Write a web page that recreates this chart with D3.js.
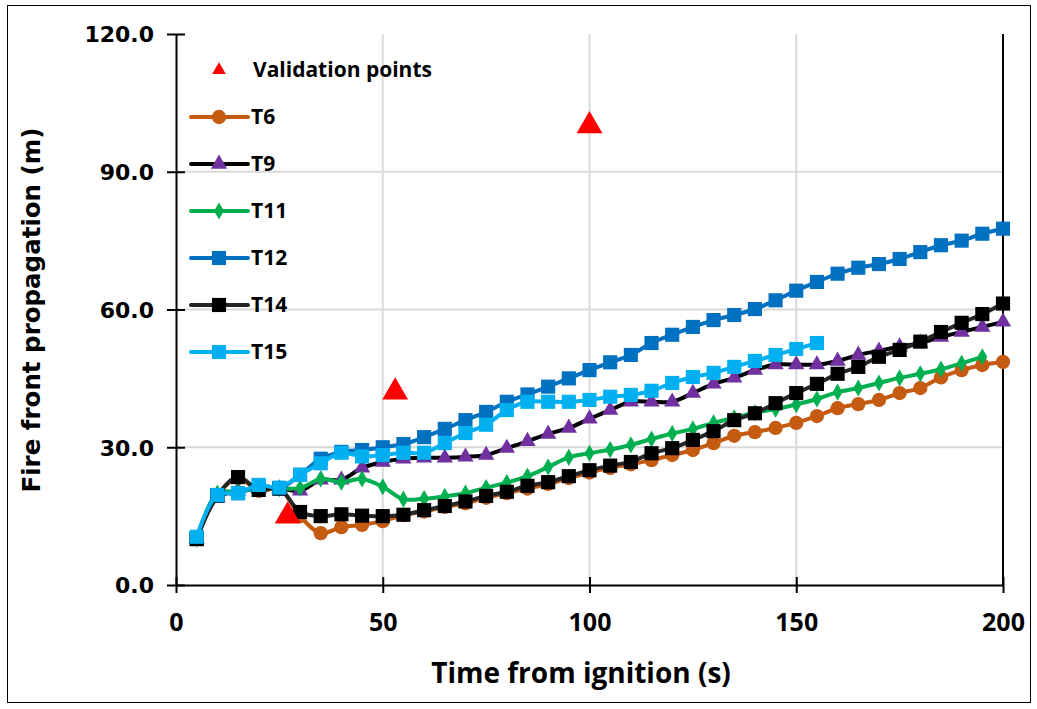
<!DOCTYPE html>
<meta charset="utf-8">
<style>
  body { margin: 0; background: #fff; }
  .ytick { font-family: "DejaVu Sans", Verdana, sans-serif; font-weight: bold; font-size: 22px; fill: #000; }
  .xtick { font-family: "Open Sans", sans-serif; font-weight: bold; font-size: 25px; fill: #000; }
  .ytitle { font-family: "DejaVu Sans", Verdana, sans-serif; font-weight: bold; font-size: 24.5px; fill: #000; }
  .xtitle { font-family: "Open Sans", sans-serif; font-weight: bold; font-size: 28px; fill: #000; }
  .legend { font-family: "Open Sans", sans-serif; font-weight: bold; font-size: 21px; fill: #000; }
</style>
<script src="https://d3js.org/d3.v7.min.js"></script>
<div id="my_dataviz"></div>
<script>

// time axis (s), every 5 s
var time = [5,10,15,20,25,30,35,40,45,50,55,60,65,70,75,80,85,90,95,100,
            105,110,115,120,125,130,135,140,145,150,155,160,165,170,175,180,185,190,195,200];

// fire front propagation (m) for each test
var t6  = [10.2,19.5,23.3,20.5,21,15,11.3,12.6,13.1,13.9,15.2,16,17,17.8,19,20,21,22,23.3,24.5,
           25.5,26.3,27.2,28.3,29.4,30.9,32.5,33.3,34.2,35.3,36.8,38.5,39.4,40.3,41.8,42.9,45.2,46.8,47.9,48.6];
var t9  = [10,19,20.5,21,21,20.5,22.9,22.9,25.5,26.8,27.5,27.7,27.7,27.9,28.3,29.8,31.3,32.9,34.2,36.2,
           38.1,39.9,39.9,39.9,41.8,43.8,45.1,46.8,48,48,48,48.8,50.1,51,51.9,52.7,54,55.1,56.2,57.3];
var t11 = [10,20,20.3,21,21,21.1,23.1,22.4,23.1,21.4,18.7,18.8,19.3,20,21.2,22.3,23.7,25.7,27.8,28.7,
           29.5,30.5,31.8,33,34,35.3,36.4,37.5,38.3,39.3,40.5,42,42.9,44,45.1,46,47,48.3,49.7];
var t12 = [10,19.5,20,21.5,21,24,27.5,29,29.4,30,30.7,32.2,34,35.9,37.7,39.9,41.5,43.2,45,46.8,
           48.5,50.1,52.7,54.5,56.2,57.7,58.8,60.1,62,64.1,66,67.8,69.1,69.9,71,72.5,74,75,76.5,77.6];
var t14 = [10,19.5,23.5,20.7,21,15.9,15,15.4,15.1,15,15.3,16.3,17.2,18.2,19.4,20.3,21.6,22.4,23.7,25,
           26,26.8,28.7,29.8,31.6,33.5,35.9,37.4,39.6,41.8,43.8,46,47.5,49.7,51.2,53,55.1,57.1,59,61.3];
var t15 = [10.5,19.6,20,21.8,21.2,24,26.5,28.8,28,28.3,28.8,28.8,30.9,33.1,34.9,38.1,39.9,39.9,39.9,40.3,
           41,41.4,42.3,44,45.3,46.2,47.5,48.8,50.1,51.4,52.7];

// validation points
var valTime  = [27, 53, 100];
var valValue = [15, 42, 100];

var xTicks = [0, 50, 100, 150, 200];
var yTicks = [0, 30, 60, 90, 120];

var series = [
  {name: "T6",  values: t6,  line: "#C55A11", fill: "#C55A11", marker: "circle"},
  {name: "T9",  values: t9,  line: "#000000", fill: "#7030A0", marker: "triangle"},
  {name: "T11", values: t11, line: "#00B050", fill: "#00B050", marker: "diamond"},
  {name: "T12", values: t12, line: "#0070C0", fill: "#0070C0", marker: "square"},
  {name: "T14", values: t14, line: "#262626", fill: "#000000", marker: "square"},
  {name: "T15", values: t15, line: "#00B0F0", fill: "#00B0F0", marker: "square"}
];

var W = 1037, H = 709;
var margin = {top: 34, right: 34, bottom: 124, left: 176};
var width = W - margin.left - margin.right,
    height = H - margin.top - margin.bottom;

var svg = d3.select("#my_dataviz")
  .append("svg")
    .attr("width", W)
    .attr("height", H);

svg.append("rect")
  .attr("x", 7.5).attr("y", 5.5)
  .attr("width", 1023).attr("height", 697)
  .attr("fill", "#fff")
  .attr("stroke", "#000")
  .attr("stroke-width", 1);

var g = svg.append("g")
  .attr("transform", "translate(" + margin.left + "," + margin.top + ")");

var x = d3.scaleLinear().domain([0, 200]).range([0, width]);
var y = d3.scaleLinear().domain([0, 120]).range([height, 0]);

// gridlines
g.selectAll(".hgrid")
  .data(yTicks.filter(function(d) { return d > 0 && d < 120; }))
  .enter().append("line")
    .attr("x1", 0).attr("x2", width)
    .attr("y1", function(d) { return y(d); })
    .attr("y2", function(d) { return y(d); })
    .attr("stroke", "#d9d9d9").attr("stroke-width", 2);

g.selectAll(".vgrid")
  .data(xTicks.filter(function(d) { return d > 0 && d < 200; }))
  .enter().append("line")
    .attr("y1", 0).attr("y2", height)
    .attr("x1", function(d) { return x(d); })
    .attr("x2", function(d) { return x(d); })
    .attr("stroke", "#d9d9d9").attr("stroke-width", 2);

// right border line at 200
g.append("line")
  .attr("x1", x(200)).attr("x2", x(200))
  .attr("y1", 0).attr("y2", height)
  .attr("stroke", "#000").attr("stroke-width", 2);

// Y axis
var yAxis = g.append("g")
  .call(d3.axisLeft(y).tickValues(yTicks).tickSize(0).tickPadding(22)
        .tickFormat(d3.format(".1f")));
yAxis.select(".domain").attr("stroke", "#000").attr("stroke-width", 2);
yAxis.selectAll("text").attr("class", "ytick").attr("dy", "0.36em");
yAxis.selectAll(".tick").append("line")
  .attr("x1", -9).attr("x2", 9).attr("stroke", "#000").attr("stroke-width", 2);

// X axis
var xAxis = g.append("g")
  .attr("transform", "translate(0," + height + ")")
  .call(d3.axisBottom(x).tickValues(xTicks).tickSize(0).tickPadding(28));
xAxis.select(".domain").attr("stroke", "#000").attr("stroke-width", 2);
xAxis.selectAll("text").attr("class", "xtick");
xAxis.selectAll(".tick").append("line")
  .attr("y1", -8).attr("y2", 8).attr("stroke", "#000").attr("stroke-width", 2);

// axis titles
svg.append("text")
  .attr("class", "ytitle")
  .attr("transform", "translate(40,310) rotate(-90)")
  .attr("text-anchor", "middle")
  .text("Fire front propagation (m)");

svg.append("text")
  .attr("class", "xtitle")
  .attr("x", 581).attr("y", 683)
  .attr("text-anchor", "middle")
  .text("Time from ignition (s)");

function symbolFor(m) {
  if (m === "circle") return d3.symbol().type(d3.symbolCircle).size(160);
  if (m === "triangle") return d3.symbol().type(d3.symbolTriangle).size(115);
  if (m === "diamond") return d3.symbol().type(d3.symbolDiamond).size(85);
  return d3.symbol().type(d3.symbolSquare).size(200);
}

var line = d3.line()
  .x(function(d) { return x(d[0]); })
  .y(function(d) { return y(d[1]); })
  .curve(d3.curveCatmullRom.alpha(0.5));

series.forEach(function(s) {
  var pts = s.values.map(function(v, i) { return [time[i], v]; });
  g.append("path")
    .datum(pts)
    .attr("fill", "none")
    .attr("stroke", s.line)
    .attr("stroke-width", 4)
    .attr("d", line);
  g.selectAll(null)
    .data(pts)
    .enter().append("path")
      .attr("d", symbolFor(s.marker)())
      .attr("transform", function(d) { return "translate(" + x(d[0]) + "," + y(d[1]) + ")"; })
      .attr("fill", s.fill);
});

// validation points
g.selectAll(".val")
  .data(valTime.map(function(t, i) { return [t, valValue[i]]; }))
  .enter().append("path")
    .attr("d", d3.symbol().type(d3.symbolTriangle).size(290)())
    .attr("transform", function(d) { return "translate(" + x(d[0]) + "," + y(d[1]) + ")"; })
    .attr("fill", "#FF0000");

// legend
var leg = svg.append("g").attr("transform", "translate(191,70)");
leg.append("path")
  .attr("d", d3.symbol().type(d3.symbolTriangle).size(80)())
  .attr("transform", "translate(28,0)")
  .attr("fill", "#FF0000");
leg.append("text").attr("class", "legend")
  .attr("x", 62).attr("dy", "0.35em").text("Validation points");

series.forEach(function(s, i) {
  var row = leg.append("g").attr("transform", "translate(0," + (47 * (i + 1)) + ")");
  row.append("line")
    .attr("x1", 0).attr("x2", 57)
    .attr("stroke", s.line).attr("stroke-width", 4)
    .attr("stroke-linecap", "round");
  row.append("path")
    .attr("d", symbolFor(s.marker)())
    .attr("transform", "translate(28,0)")
    .attr("fill", s.fill);
  row.append("text").attr("class", "legend")
    .attr("x", 60).attr("dy", "0.35em").text(s.name);
});

</script>
